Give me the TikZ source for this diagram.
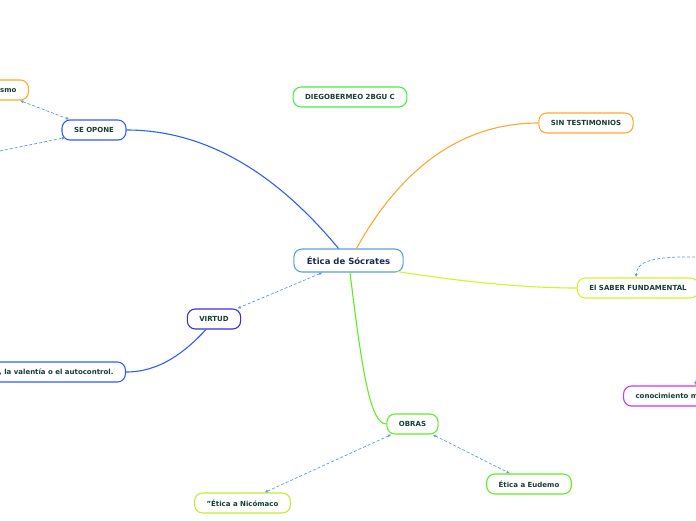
\documentclass[tikz,border=0pt]{standalone}
\usepackage{fontspec}
\setmainfont{DejaVu Sans}
\usetikzlibrary{arrows.meta}

\definecolor{txtgreen}{HTML}{163F33}
\definecolor{txtnavy}{HTML}{1B2A4E}
\definecolor{rootblue}{HTML}{5AA0D8}
\definecolor{brblue}{HTML}{2F5DFF}
\definecolor{brviolet}{HTML}{3A2EE0}
\definecolor{brorange}{HTML}{FFA82E}
\definecolor{brlime}{HTML}{D2F52A}
\definecolor{brgreen}{HTML}{5EEE22}
\definecolor{brgreenB}{HTML}{44EE44}
\definecolor{brolive}{HTML}{BDEE33}
\definecolor{brmagenta}{HTML}{CC33FF}
\definecolor{relblue}{HTML}{5B9BE6}

\begin{document}
\begin{tikzpicture}[x=1pt,y=-1pt,>={Latex[length=3.5pt,width=3pt]},
  topic/.style={draw,rounded corners=8pt,line width=1.1pt,fill=white,
    minimum height=20pt,inner xsep=12pt,inner ysep=0pt,text=txtgreen,
    font=\bfseries\fontsize{7}{8}\selectfont},
  branch/.style={line width=1.1pt},
  relation/.style={dash pattern=on 3pt off 2pt,line width=0.7pt,draw=relblue}]
  \useasboundingbox (0,0) rectangle (696,520);

  % Central topic
  \node[topic,draw=rootblue,minimum height=23pt,inner xsep=13pt,text=txtnavy,
    font=\bfseries\fontsize{8.5}{10}\selectfont] (etica) at (348.5,260.5) {Ética de Sócrates};

  % Main topics
  \node[topic,draw=brgreenB] (autor) at (350,97) {DIEGOBERMEO 2BGU C};
  \node[topic,draw=brorange] (sintest) at (586,123) {SIN TESTIMONIOS};
  \node[topic,draw=brlime] (saber) at (638,288) {El SABER FUNDAMENTAL};
  \node[topic,draw=brblue] (seopone) at (94,130) {SE OPONE};
  \node[topic,draw=brviolet] (virtud) at (214,319) {VIRTUD};
  \node[topic,draw=brgreen] (obras) at (412.5,424) {OBRAS};

  % Subtopics
  \node[topic,draw=brorange,anchor=east,text width=40pt,align=right] (ismo) at (29,90) {ismo};
  \node[topic,draw=brblue,anchor=east] (valentia) at (126,372) {a, la valentía o el autocontrol.};
  \node[topic,draw=brgreen] (eudemo) at (529,484) {Ética a Eudemo};
  \node[topic,draw=brolive] (nicomaco) at (242.5,503) {"Ética a Nicómaco};
  \node[topic,draw=brmagenta,anchor=west,text width=90pt,align=left] (conoc) at (623,396) {conocimiento m};

  % Branches
  \draw[branch,brblue] (seopone.east) .. controls (220,130) and (290,190) .. ([xshift=-10pt]etica.north);
  \draw[branch,brorange] ([xshift=8pt]etica.north) .. controls (400,170) and (460,123) .. (sintest.west);
  \draw[branch,brlime] ([xshift=-6pt,yshift=1pt]etica.south east) .. controls (470,283) and (530,288) .. (saber.west);
  \draw[branch,brgreen] ([xshift=1.5pt]etica.south) .. controls (362,370) and (370,424) .. (obras.west);
  \draw[branch,brblue] ([xshift=-8pt]virtud.south) .. controls (185,352) and (160,372) .. (valentia.east);

  % Relations
  \coordinate (offL) at (-10,153);
  \coordinate (offR) at (700,257);
  \coordinate (offC) at (700,360);
  \draw[relation,<->] ([xshift=-26pt]etica.south) -- ([xshift=-4pt]virtud.north east);
  \draw[relation,<->] ([xshift=-9pt]ismo.south east) -- ([xshift=8pt]seopone.north west);
  \draw[relation,->] (offL) -- ([xshift=4pt,yshift=3pt]seopone.south west);
  \draw[relation,<->] ([xshift=5pt]obras.south west) -- ([xshift=22pt]nicomaco.north);
  \draw[relation,<->] ([xshift=-6pt]obras.south east) -- ([xshift=-19pt]eudemo.north);
  \draw[relation,->] (offR) .. controls (650,256) and (637,262) .. ([xshift=-2pt]saber.north);
  \draw[relation,->] (offC) -- ([xshift=72pt]conoc.north west);
\end{tikzpicture}
\end{document}
